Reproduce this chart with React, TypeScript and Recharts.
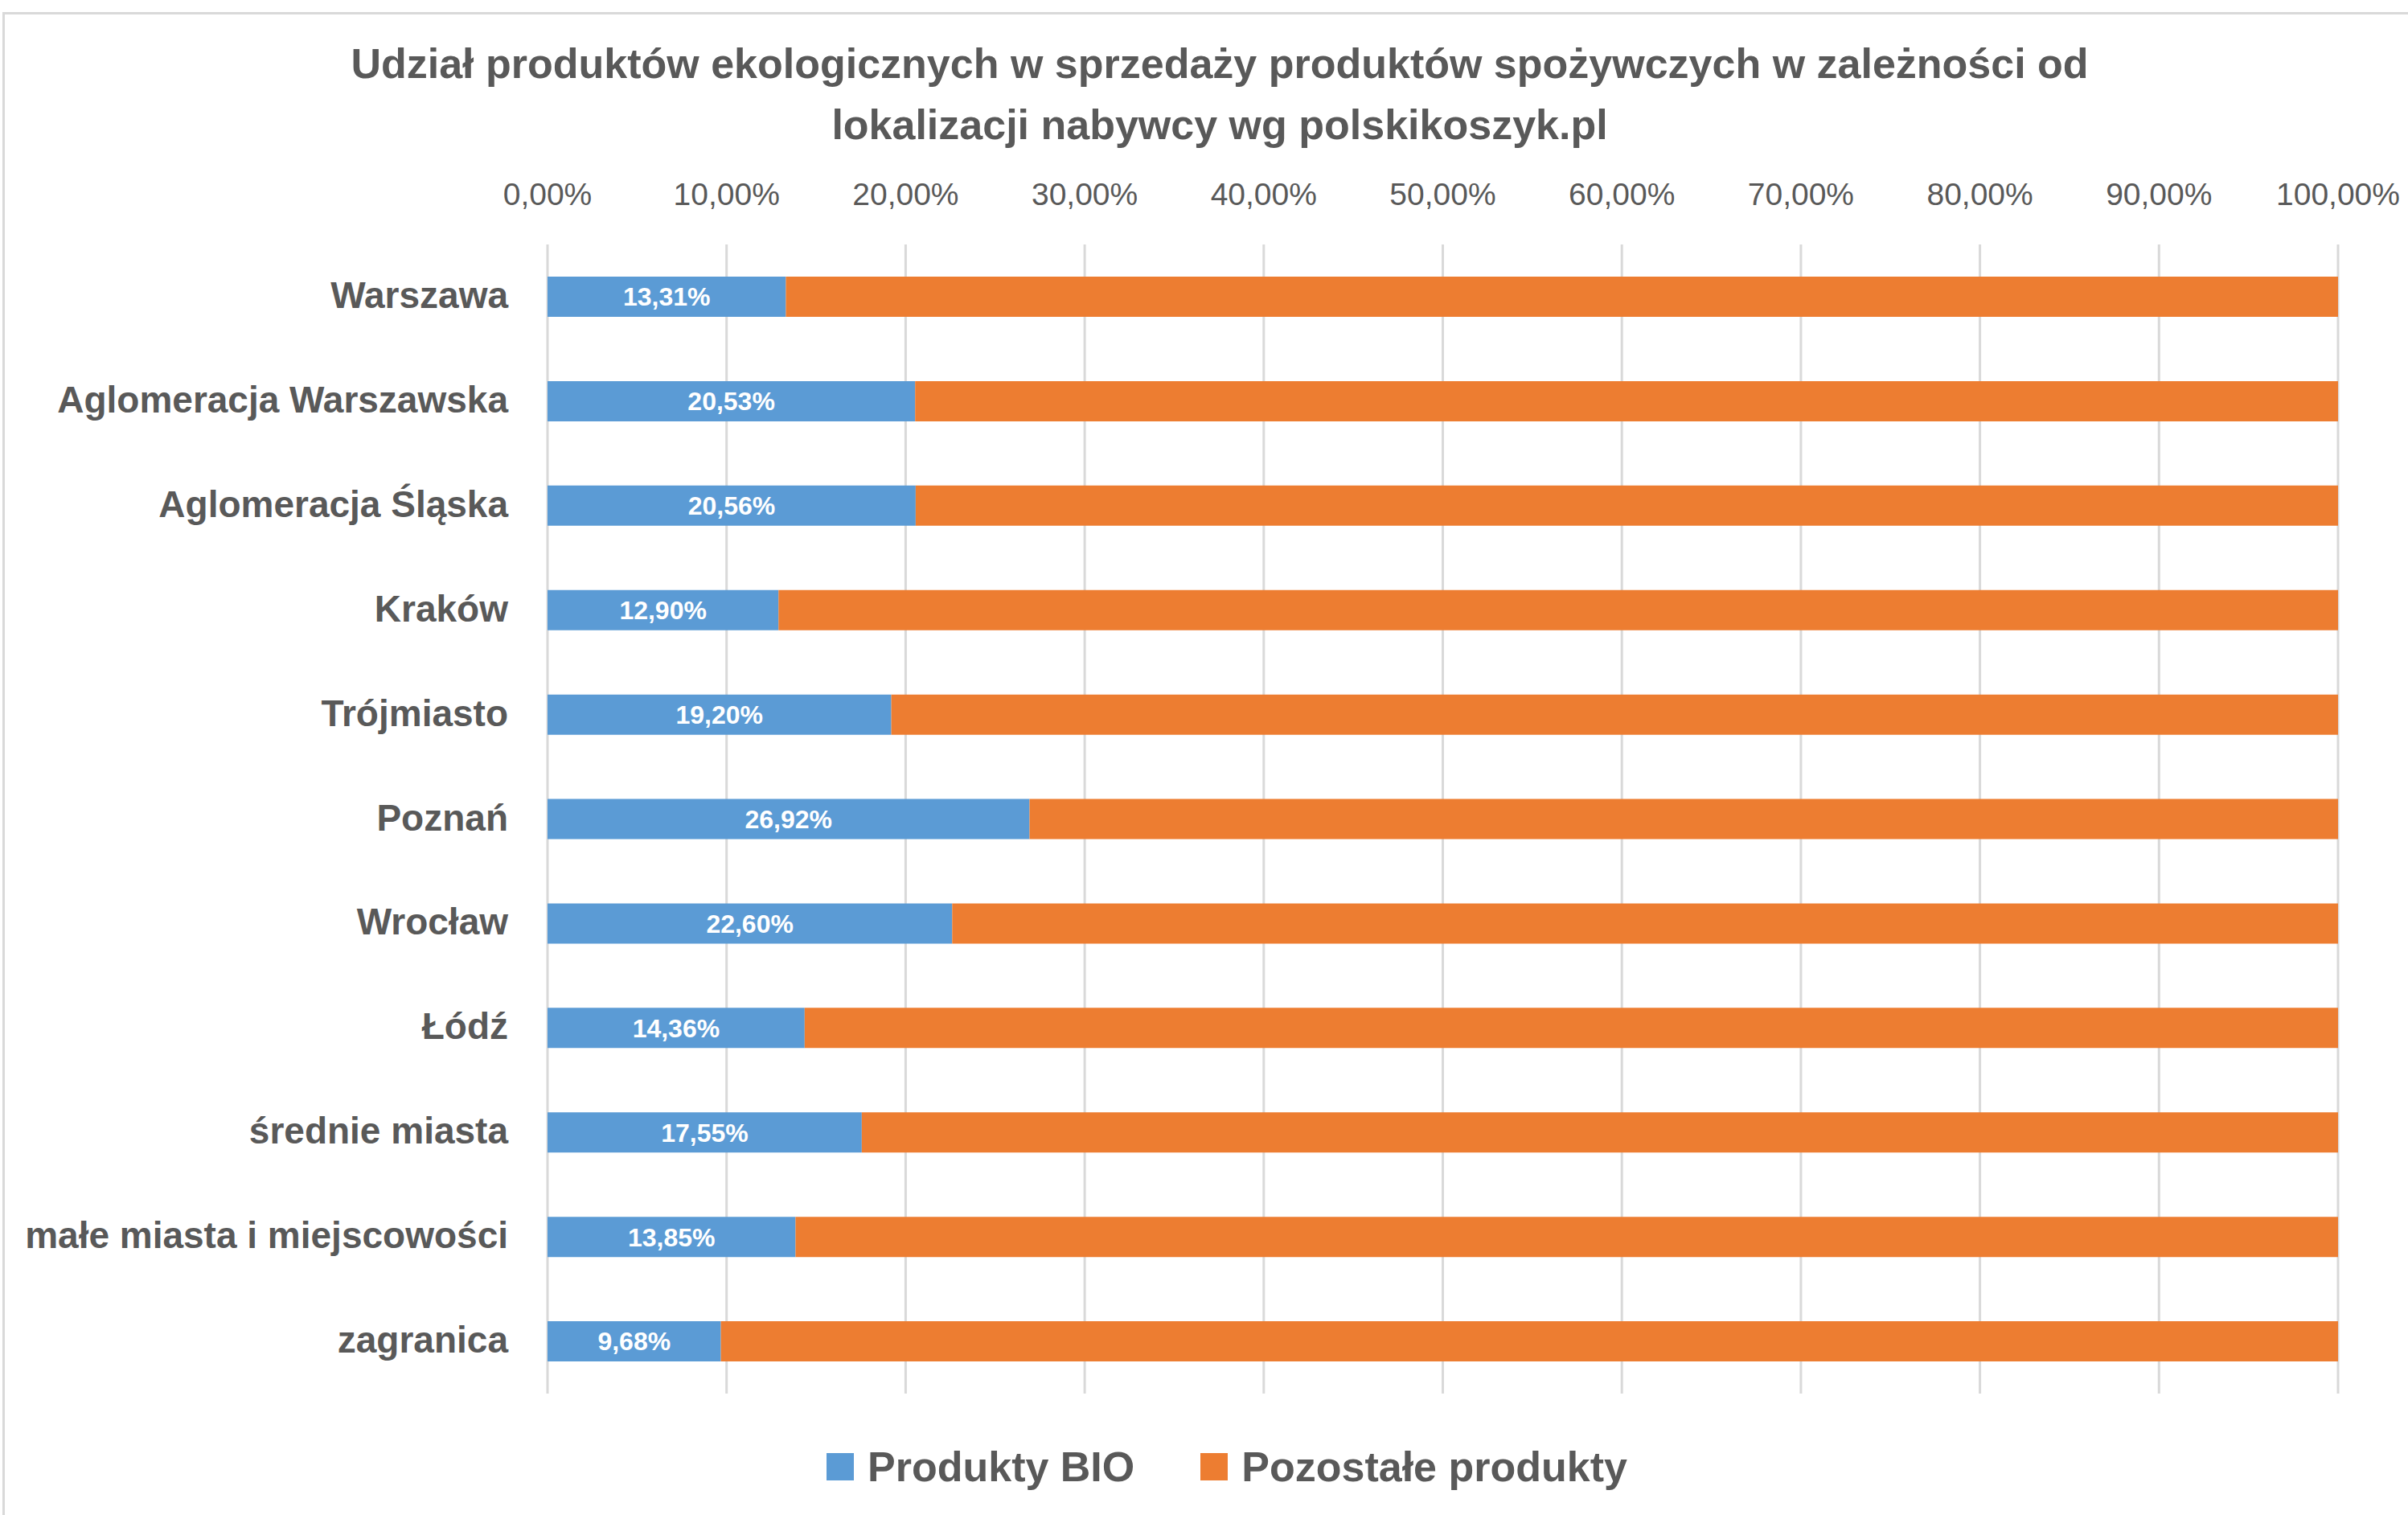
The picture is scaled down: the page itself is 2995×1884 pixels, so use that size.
import React from 'react';
import { BarChart, Bar, XAxis, YAxis, CartesianGrid, LabelList, Legend } from 'recharts';

const categories = [
  'Warszawa',
  'Aglomeracja Warszawska',
  'Aglomeracja Śląska',
  'Kraków',
  'Trójmiasto',
  'Poznań',
  'Wrocław',
  'Łódź',
  'średnie miasta',
  'małe miasta i miejscowości',
  'zagranica',
];
const bioShare = [13.31, 20.53, 20.56, 12.9, 19.2, 26.92, 22.6, 14.36, 17.55, 13.85, 9.68];
const otherShare = [86.69, 79.47, 79.44, 87.1, 80.8, 73.08, 77.4, 85.64, 82.45, 86.15, 90.32];
const xTicks = [0, 10, 20, 30, 40, 50, 60, 70, 80, 90, 100];
const seriesNames = ['Produkty BIO', 'Pozostałe produkty'];
const seriesColors = ['#5B9BD5', '#ED7D31'];
const titleLines = [
  'Udział produktów ekologicznych w sprzedaży produktów spożywczych w zależności od',
  'lokalizacji nabywcy wg polskikoszyk.pl',
];

const data = categories.map((c, i) => ({ name: c, bio: bioShare[i], other: otherShare[i] }));

const FONT = "'Liberation Sans', Arial, sans-serif";
const TEXT = '#595959';

const fmt = (v: number) => v.toFixed(2).replace('.', ',') + '%';

const XTick = (props: any) => {
  const { x, y, payload } = props;
  return (
    <text x={x} y={y} textAnchor="middle" fill={TEXT} fontFamily={FONT} fontSize={39}>
      {fmt(Number(payload.value))}
    </text>
  );
};

const YTick = (props: any) => {
  const { x, y, payload } = props;
  return (
    <text x={x} y={y + 14} textAnchor="end" fill={TEXT} fontFamily={FONT} fontSize={46} fontWeight="bold">
      {payload.value}
    </text>
  );
};

const renderLegend = () => (
  <div style={{ display: 'flex', alignItems: 'center', fontFamily: FONT, fontWeight: 'bold', fontSize: 52, color: TEXT, whiteSpace: 'nowrap', lineHeight: '60px' }}>
    {seriesNames.map((n, i) => (
      <div key={n} style={{ display: 'flex', alignItems: 'center', marginRight: i === 0 ? 82 : 0 }}>
        <div style={{ width: 34, height: 34, background: seriesColors[i], marginRight: 17 }} />
        <span>{n}</span>
      </div>
    ))}
  </div>
);

export default function App() {
  return (
    <div style={{ position: 'absolute', left: 0, top: 0, width: 2995, height: 1884, background: '#fff', overflow: 'hidden' }}>
      <div style={{ position: 'absolute', left: 3, top: 15, width: 3100, height: 2000, borderTop: '3px solid #d9d9d9', borderLeft: '3px solid #d9d9d9' }} />
      <svg style={{ position: 'absolute', left: 0, top: 0 }} width={2995} height={200}>
        {titleLines.map((t, i) => (
          <text key={i} x={1517} y={97 + i * 76} textAnchor="middle" fill={TEXT} fontFamily={FONT} fontSize={52} fontWeight="bold">
            {t}
          </text>
        ))}
      </svg>
      <div style={{ position: 'absolute', left: 0, top: 0 }}>
        <BarChart
          width={2995}
          height={1884}
          data={data}
          layout="vertical"
          margin={{ top: 254, right: 87, bottom: 151, left: 0 }}
          barSize={50}
        >
          <CartesianGrid horizontal={false} stroke="#d9d9d9" strokeWidth={3} />
          <XAxis
            type="number"
            orientation="top"
            domain={[0, 100]}
            ticks={xTicks}
            height={50}
            axisLine={false}
            tickLine={false}
            tickSize={0}
            tickMargin={49}
            tick={<XTick />}
            interval={0}
          />
          <YAxis
            type="category"
            dataKey="name"
            width={681}
            axisLine={false}
            tickLine={false}
            tickSize={0}
            tickMargin={49}
            tick={<YTick />}
            interval={0}
          />
          <Legend
            layout="horizontal"
            verticalAlign="middle"
            align="center"
            content={renderLegend}
            wrapperStyle={{ left: 1028, top: 1794, width: 'auto', height: 60 }}
          />
          <Bar dataKey="bio" name={seriesNames[0]} stackId="a" fill={seriesColors[0]} isAnimationActive={false}>
            <LabelList
              dataKey="bio"
              position="center"
              formatter={(v: any) => fmt(Number(v))}
              fill="#ffffff"
              fontFamily={FONT}
              fontSize={32}
              fontWeight="bold"
            />
          </Bar>
          <Bar dataKey="other" name={seriesNames[1]} stackId="a" fill={seriesColors[1]} isAnimationActive={false} />
        </BarChart>
      </div>
    </div>
  );
}
